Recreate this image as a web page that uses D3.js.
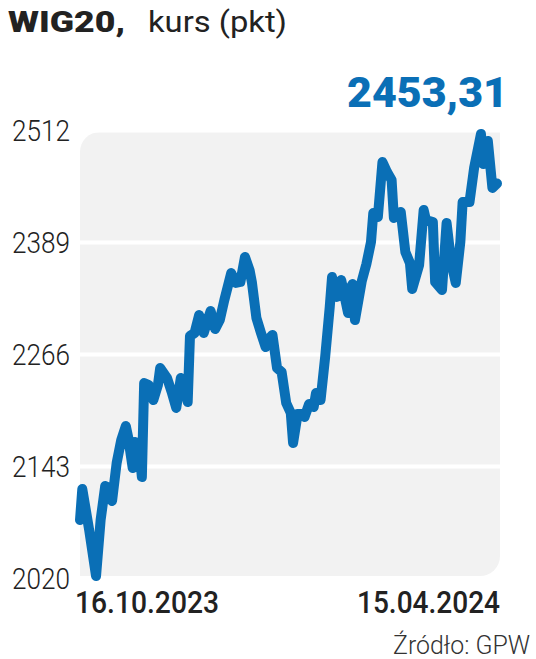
<!DOCTYPE html>
<html>
<head>
<meta charset="utf-8">
<script src="https://cdn.jsdelivr.net/npm/d3@7"></script>
<style>
  html, body { margin: 0; padding: 0; background: #ffffff; }
  svg { display: block; }
</style>
</head>
<body>
<div id="chart"></div>
<script>
// ---- data ----
const dates = [
  "2023-10-16","2023-10-17","2023-10-20","2023-10-23","2023-10-25","2023-10-27","2023-10-28","2023-10-30",
  "2023-11-01","2023-11-03","2023-11-05","2023-11-06","2023-11-08","2023-11-09","2023-11-11","2023-11-12",
  "2023-11-13","2023-11-15","2023-11-17","2023-11-19","2023-11-20","2023-11-23","2023-11-25","2023-11-27",
  "2023-11-29","2023-11-30","2023-12-02","2023-12-03","2023-12-05","2023-12-07","2023-12-09","2023-12-11",
  "2023-12-12","2023-12-14","2023-12-16","2023-12-18","2023-12-21","2023-12-23","2023-12-25","2023-12-27",
  "2023-12-29","2023-12-30","2024-01-01","2024-01-03","2024-01-05","2024-01-06","2024-01-08","2024-01-10",
  "2024-01-12","2024-01-14","2024-01-16","2024-01-17","2024-01-19","2024-01-21","2024-01-22","2024-01-24",
  "2024-01-26","2024-01-27","2024-01-29","2024-01-31","2024-02-02","2024-02-03","2024-02-05","2024-02-07",
  "2024-02-10","2024-02-11","2024-02-12","2024-02-13","2024-02-16","2024-02-18","2024-02-20","2024-02-21",
  "2024-02-23","2024-02-25","2024-02-27","2024-02-29","2024-03-01","2024-03-04","2024-03-06","2024-03-08",
  "2024-03-09","2024-03-12","2024-03-14","2024-03-15","2024-03-18","2024-03-19","2024-03-22","2024-03-24",
  "2024-03-26","2024-03-28","2024-03-30","2024-03-31","2024-04-03","2024-04-05","2024-04-08","2024-04-09",
  "2024-04-11","2024-04-13","2024-04-15"
];
const values = [
  2083.7,2117.7,2072.7,2022.2,2083.7,2121.0,2119.9,2104.6,
  2146.3,2171.5,2186.9,2174.8,2140.8,2169.4,2158.4,2130.9,
  2234.1,2231.9,2215.5,2231.9,2250.6,2239.6,2224.3,2206.7,
  2239.6,2237.4,2213.3,2285.8,2289.1,2308.8,2289.1,2305.5,
  2313.2,2293.4,2303.3,2325.3,2354.9,2344.0,2345.1,2372.5,
  2358.2,2345.1,2305.5,2289.1,2273.7,2281.4,2286.9,2250.6,
  2246.2,2212.2,2201.2,2168.3,2200.1,2200.1,2196.8,2211.1,
  2207.8,2223.2,2215.5,2262.7,2317.6,2350.5,2328.6,2347.3,
  2311.0,2338.5,2342.9,2303.3,2346.2,2364.8,2389.0,2420.8,
  2416.4,2476.8,2465.9,2457.1,2415.3,2421.9,2378.0,2365.9,
  2337.4,2363.7,2424.1,2413.1,2410.9,2345.1,2336.3,2409.9,
  2367.0,2344.0,2389.0,2432.9,2432.9,2470.2,2507.6,2474.6,
  2499.9,2448.3,2453.31
];
const yTicks = [2020, 2143, 2266, 2389, 2512];
const xLabels = ["16.10.2023", "15.04.2024"];
const titleBold = "WIG20,";
const titleRest = "kurs (pkt)";
const lastValueLabel = "2453,31";
const sourceLabel = "Źródło: GPW";

// ---- drawing ----
const W = 536, H = 659;
const blue = "#0a6fb6";
const dark = "#222222";
const FONT = "Roboto, 'DejaVu Sans', sans-serif";

const svg = d3.select("#chart").append("svg")
  .attr("width", W).attr("height", H);

const parse = d3.timeParse("%Y-%m-%d");
const data = dates.map((d, i) => ({ date: parse(d), value: values[i] }));

const x = d3.scaleTime()
  .domain([parse(dates[0]), parse(dates[dates.length - 1])])
  .range([80, 497]);
const y = d3.scaleLinear().domain([2020, 2512]).range([578, 130]);

// plot background with rounded top-left and bottom-right corners
const bx0 = 80, bx1 = 500, by0 = 132, by1 = 576, r = 20;
svg.append("path")
  .attr("d", `M${bx0},${by0 + r} A${r},${r} 0 0 1 ${bx0 + r},${by0} L${bx1},${by0} L${bx1},${by1 - r} A${r},${r} 0 0 1 ${bx1 - r},${by1} L${bx0},${by1} Z`)
  .attr("fill", "#f2f2f2");

// gridlines
const grid = svg.append("g")
  .attr("transform", `translate(${bx0},0)`)
  .call(d3.axisRight(y).tickValues(yTicks).tickSize(bx1 - bx0).tickFormat(""));
grid.select(".domain").remove();
grid.selectAll("line").attr("stroke", "#ffffff").attr("stroke-width", 4);

// y axis labels
const yAxis = svg.append("g")
  .attr("transform", `translate(${bx0},0)`)
  .call(d3.axisLeft(y).tickValues(yTicks).tickSize(0).tickPadding(10).tickFormat(d3.format("d")));
yAxis.select(".domain").remove();
yAxis.selectAll("text")
  .attr("font-family", FONT)
  .attr("font-size", 29)
  .attr("font-weight", 300)
  .attr("fill", dark)
  .attr("dy", "0.36em")
  .attr("textLength", 58)
  .attr("lengthAdjust", "spacingAndGlyphs");

// line
const line = d3.line()
  .x(d => x(d.date))
  .y(d => y(d.value))
  .curve(d3.curveLinear);
svg.append("path")
  .datum(data)
  .attr("d", line)
  .attr("fill", "none")
  .attr("stroke", blue)
  .attr("stroke-width", 10)
  .attr("stroke-linejoin", "round")
  .attr("stroke-linecap", "round");

// x labels
svg.append("text")
  .attr("x", 75).attr("y", 613)
  .attr("font-family", FONT).attr("font-size", 32).attr("font-weight", 500)
  .attr("fill", dark)
  .attr("textLength", 144).attr("lengthAdjust", "spacingAndGlyphs")
  .text(xLabels[0]);
svg.append("text")
  .attr("x", 357).attr("y", 613)
  .attr("font-family", FONT).attr("font-size", 32).attr("font-weight", 500)
  .attr("fill", dark)
  .attr("textLength", 143).attr("lengthAdjust", "spacingAndGlyphs")
  .text(xLabels[1]);

// title
svg.append("text")
  .attr("x", 8).attr("y", 32)
  .attr("font-family", FONT).attr("font-size", 30).attr("font-weight", 900)
  .attr("fill", dark)
  .attr("textLength", 117).attr("lengthAdjust", "spacingAndGlyphs")
  .text(titleBold);
svg.append("text")
  .attr("x", 148).attr("y", 32)
  .attr("font-family", FONT).attr("font-size", 29).attr("font-weight", 400)
  .attr("fill", dark)
  .attr("textLength", 139).attr("lengthAdjust", "spacingAndGlyphs")
  .text(titleRest);

// last value
svg.append("text")
  .attr("x", 347).attr("y", 107)
  .attr("font-family", FONT).attr("font-size", 42).attr("font-weight", 900)
  .attr("fill", blue)
  .attr("textLength", 161).attr("lengthAdjust", "spacingAndGlyphs")
  .text(lastValueLabel);

// source
svg.append("text")
  .attr("x", 393).attr("y", 654)
  .attr("font-family", FONT).attr("font-size", 26).attr("font-weight", 300)
  .attr("fill", "#333333")
  .attr("textLength", 137).attr("lengthAdjust", "spacingAndGlyphs")
  .text(sourceLabel);
</script>
</body>
</html>
